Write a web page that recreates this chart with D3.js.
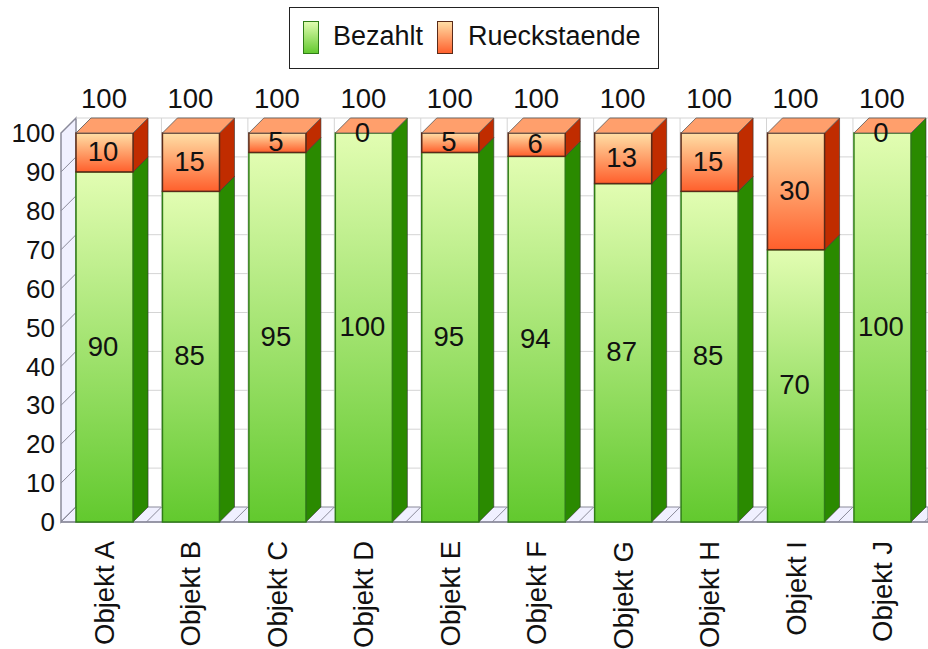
<!DOCTYPE html>
<html>
<head>
<meta charset="utf-8">
<script src="https://cdn.jsdelivr.net/npm/d3@7"></script>
<style>
html, body { margin: 0; background: #fff; }
text { font-family: "Liberation Sans", Arial, sans-serif; fill: #111; }
</style>
</head>
<body>
<div id="myChart"></div>
<script>
// Values
var categories = ["Objekt A", "Objekt B", "Objekt C", "Objekt D", "Objekt E", "Objekt F", "Objekt G", "Objekt H", "Objekt I", "Objekt J"];
var bezahlt = [90, 85, 95, 100, 95, 94, 87, 85, 70, 100];
var rueckstaende = [10, 15, 5, 0, 5, 6, 13, 15, 30, 0];
var totals = [100, 100, 100, 100, 100, 100, 100, 100, 100, 100];
var yTicks = [0, 10, 20, 30, 40, 50, 60, 70, 80, 90, 100];
var seriesNames = ["Bezahlt", "Rueckstaende"];

var width = 928;
var height = 649;
var depth = 15;
var tickFont = 26;
var labelFont = 27.5;
var legendFont = 27;

var svg = d3.select("#myChart").append("svg")
	.attr("width", width)
	.attr("height", height)
	.style("display", "block");

// gradients
var defs = svg.append("defs");
function gradient(id, top, bottom) {
	var g = defs.append("linearGradient").attr("id", id)
		.attr("x1", 0).attr("y1", 0).attr("x2", 0).attr("y2", 1);
	g.append("stop").attr("offset", "0%").attr("stop-color", top);
	g.append("stop").attr("offset", "100%").attr("stop-color", bottom);
}
gradient("greenFill", "#e2fdb2", "#62c92e");
gradient("orangeFill", "#ffdfa6", "#ff5f2c");

var yScale = d3.scaleLinear().domain([0, 100]).range([522, 133]);
var xScale = d3.scaleBand().domain(categories)
	.range([76, 911]).paddingInner(0.34).paddingOuter(0).align(0);

var bw = xScale.bandwidth();
var x0 = xScale.range()[0];
var step = xScale.step();

// left wall
svg.append("path")
	.attr("d", "M" + (x0 - depth) + "," + yScale(0) + "L" + x0 + "," + (yScale(0) - depth) +
		"L" + x0 + "," + (yScale(100) - depth) + "L" + (x0 - depth) + "," + yScale(100) + "Z")
	.attr("fill", "#f0f0ff")
	.attr("stroke", "#8a8a9a")
	.attr("stroke-width", 1.5);

// floor
svg.append("path")
	.attr("d", "M" + (x0 - depth) + "," + yScale(0) + "L" + x0 + "," + (yScale(0) - depth) +
		"L" + width + "," + (yScale(0) - depth) + "L" + width + "," + yScale(0) + "Z")
	.attr("fill", "#f0f0ff")
	.attr("stroke", "#8a8a9a");

// gridlines on back plane and diagonals on the wall
svg.selectAll(".grid").data(yTicks.slice(1)).enter().append("line")
	.attr("x1", x0).attr("x2", width)
	.attr("y1", function(d) { return yScale(d) - depth; })
	.attr("y2", function(d) { return yScale(d) - depth; })
	.attr("stroke", "#d4d4d4");

svg.selectAll(".wallTick").data(yTicks).enter().append("line")
	.attr("x1", x0 - depth).attr("x2", x0)
	.attr("y1", function(d) { return yScale(d); })
	.attr("y2", function(d) { return yScale(d) - depth; })
	.attr("stroke", "#8a8a9a");

// vertical gridlines, only the bit above each bar ends up visible
svg.selectAll(".vgrid").data(categories).enter().append("line")
	.attr("x1", function(d) { return xScale(d) + step - 1; })
	.attr("x2", function(d) { return xScale(d) + step - 1; })
	.attr("y1", yScale(100) - depth)
	.attr("y2", yScale(0) - depth)
	.attr("stroke", "#d4d4d4");

// diagonals across the floor
svg.selectAll(".floorTick").data(categories).enter().append("line")
	.attr("x1", function(d) { return xScale(d) + step - 1 - depth; })
	.attr("x2", function(d) { return xScale(d) + step - 1; })
	.attr("y1", yScale(0))
	.attr("y2", yScale(0) - depth)
	.attr("stroke", "#8a8a9a");

// axis line at the front of the floor
svg.append("line")
	.attr("x1", x0 - depth).attr("x2", width)
	.attr("y1", yScale(0)).attr("y2", yScale(0))
	.attr("stroke", "#8a8a9a")
	.attr("stroke-width", 1.5);

// one stacked segment: side face first, then front
function drawSegment(g, cat, low, high, fillId, sideColor, strokeColor) {
	var x = xScale(cat);
	var yLow = yScale(low);
	var yHigh = yScale(high);
	g.append("path")
		.attr("d", "M" + (x + bw) + "," + yLow + "L" + (x + bw + depth) + "," + (yLow - depth) +
			"L" + (x + bw + depth) + "," + (yHigh - depth) + "L" + (x + bw) + "," + yHigh + "Z")
		.attr("fill", sideColor)
		.attr("stroke", "#333")
		.attr("stroke-width", 0.6);
	g.append("rect")
		.attr("x", x).attr("y", yHigh)
		.attr("width", bw).attr("height", Math.max(0, yLow - yHigh))
		.attr("fill", "url(#" + fillId + ")")
		.attr("stroke", strokeColor)
		.attr("stroke-width", 1.5);
}

categories.forEach(function(cat, i) {
	var g = svg.append("g");
	var x = xScale(cat);
	drawSegment(g, cat, 0, bezahlt[i], "greenFill", "#2a8a00", "#2f7d16");
	if (rueckstaende[i] > 0) {
		drawSegment(g, cat, bezahlt[i], bezahlt[i] + rueckstaende[i], "orangeFill", "#c02c00", "#5a2a18");
	}
	// top face
	var yTop = yScale(totals[i]);
	g.append("path")
		.attr("d", "M" + x + "," + yTop + "L" + (x + depth) + "," + (yTop - depth) +
			"L" + (x + bw + depth) + "," + (yTop - depth) + "L" + (x + bw) + "," + yTop + "Z")
		.attr("fill", "#ff9f6c")
		.attr("stroke", "#555")
		.attr("stroke-width", 0.8);
});

// value labels
function valueLabels(values, offsets) {
	svg.append("g").selectAll("text").data(values).enter().append("text")
		.attr("x", function(d, i) { return xScale(categories[i]) + bw / 2 - 1.5; })
		.attr("y", function(d, i) { return yScale(offsets[i] + d / 2) - 1; })
		.attr("dy", "0.35em")
		.attr("text-anchor", "middle")
		.style("font-size", labelFont + "px")
		.text(function(d) { return d; });
}
valueLabels(bezahlt, categories.map(function() { return 0; }));
valueLabels(rueckstaende, bezahlt);

// totals above the stacks
svg.append("g").selectAll("text").data(totals).enter().append("text")
	.attr("x", function(d, i) { return xScale(categories[i]) + bw / 2 - 0.5; })
	.attr("y", function(d) { return yScale(d) - 25; })
	.attr("text-anchor", "middle")
	.style("font-size", labelFont + "px")
	.text(function(d) { return d; });

// y axis labels
svg.append("g").selectAll("text").data(yTicks).enter().append("text")
	.attr("x", 55)
	.attr("y", function(d) { return yScale(d); })
	.attr("dy", "0.35em")
	.attr("text-anchor", "end")
	.style("font-size", tickFont + "px")
	.text(function(d) { return d; });

// category labels
svg.append("g").selectAll("text").data(categories).enter().append("text")
	.attr("transform", function(d) { return "translate(" + (xScale(d) + bw / 2 + 9.5) + ",541) rotate(-90)"; })
	.attr("text-anchor", "end")
	.style("font-size", labelFont + "px")
	.text(function(d) { return d; });

// legend
var legend = svg.append("g");
legend.append("rect")
	.attr("x", 289.5).attr("y", 7.5).attr("width", 369).attr("height", 61)
	.attr("fill", "#fff").attr("stroke", "#222");
var legendSwatch = [303.5, 437.5];
var legendText = [333, 468];
var legendFill = ["greenFill", "orangeFill"];
var legendStroke = ["#2f7d16", "#5a2a18"];
seriesNames.forEach(function(name, i) {
	legend.append("rect")
		.attr("x", legendSwatch[i]).attr("y", 21.5).attr("width", 15).attr("height", 32)
		.attr("fill", "url(#" + legendFill[i] + ")")
		.attr("stroke", legendStroke[i]);
	legend.append("text")
		.attr("x", legendText[i]).attr("y", 45)
		.style("font-size", legendFont + "px")
		.text(name);
});
</script>
</body>
</html>
